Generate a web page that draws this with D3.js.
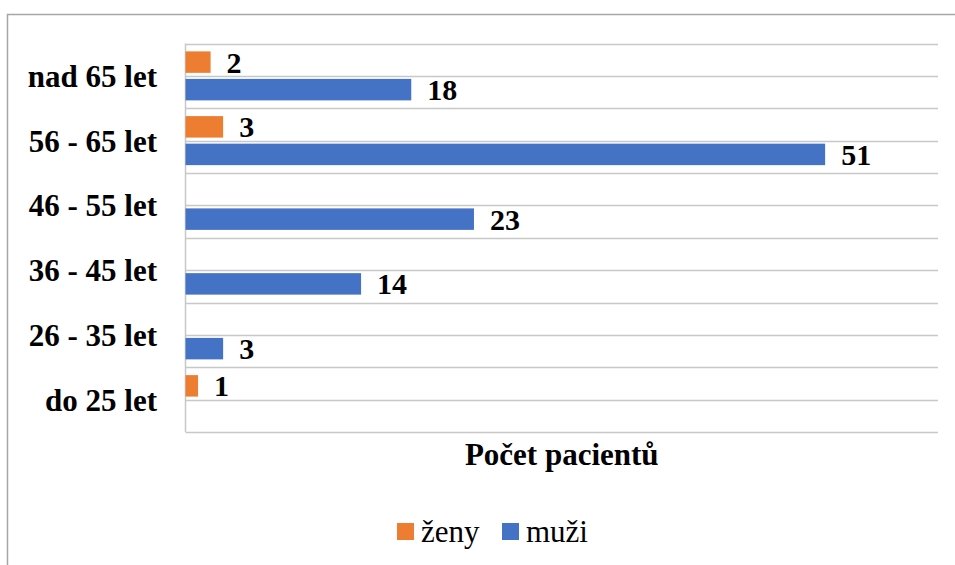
<!DOCTYPE html>
<html>
<head>
<meta charset="utf-8">
<script src="https://cdn.jsdelivr.net/npm/d3@7"></script>
<style>
  body { margin: 0; background: #fff; }
  text { font-family: "Liberation Serif", "Times New Roman", serif; fill: #000; }
</style>
</head>
<body>
<svg class="chart"></svg>
<script>
// age groups, bottom to top as in the original
var categories = ["do 25 let", "26 - 35 let", "36 - 45 let", "46 - 55 let", "56 - 65 let", "nad 65 let"];
var series = ["ženy", "muži"];
var zeny = [1, null, null, null, 3, 2];
var muzi = [null, 3, 14, 23, 51, 18];
var colors = ["#ED7D31", "#4472C4"];
var axisTitle = "Počet pacientů";

var width = 955, height = 565;
// plot area edges (note: "top" is a reserved window prop, so use plot*)
var plotLeft = 185.5, plotRight = 938, plotTop = 43.5, plotBottom = 432;

var chart = d3.select(".chart").attr("width", width).attr("height", height);

// outer chart border (only left and top edges are inside the picture)
chart.append("rect")
    .attr("x", 7.5).attr("y", 14.5)
    .attr("width", 1000).attr("height", 600)
    .attr("fill", "none").attr("stroke", "#a6a6a6").attr("stroke-width", 1.5);

var x = d3.scaleLinear().domain([0, 60]).range([plotLeft, plotRight]);
var y = d3.scaleBand().domain(categories.slice().reverse()).range([plotTop, plotBottom]);
var yInner = d3.scaleBand().domain(series).range([0, y.bandwidth()])
    .paddingInner(0.22).paddingOuter(0.286);

// horizontal gridlines at every half category
var grid = [];
categories.forEach(function(c) { grid.push(y(c)); grid.push(y(c) + y.bandwidth() / 2); });
grid.push(plotBottom);
chart.append("g").selectAll("line")
    .data(grid)
  .enter().append("line")
    .attr("x1", plotLeft).attr("x2", plotRight)
    .attr("y1", function(d) { return Math.round(d) + 0.5; })
    .attr("y2", function(d) { return Math.round(d) + 0.5; })
    .attr("stroke", "#c8c8c8").attr("stroke-width", 1.5);

// vertical axis line
chart.append("line")
    .attr("x1", plotLeft).attr("x2", plotLeft).attr("y1", plotTop).attr("y2", plotBottom)
    .attr("stroke", "#c8c8c8").attr("stroke-width", 1.5);

var rows = [];
categories.forEach(function(c, i) {
  rows.push({ cat: c, s: 0, v: zeny[i] });
  rows.push({ cat: c, s: 1, v: muzi[i] });
});
rows = rows.filter(function(d) { return d.v != null; });

var bar = chart.selectAll("g.bar")
    .data(rows)
  .enter().append("g")
    .attr("class", "bar")
    .attr("transform", function(d) { return "translate(0," + (y(d.cat) + yInner(series[d.s])) + ")"; });

bar.append("rect")
    .attr("x", x(0))
    .attr("width", function(d) { return x(d.v) - x(0); })
    .attr("height", yInner.bandwidth())
    .attr("fill", function(d) { return colors[d.s]; });

bar.append("text")
    .attr("x", function(d) { return x(d.v) + 16; })
    .attr("y", yInner.bandwidth() / 2 + 10.5)
    .attr("font-size", "30px").attr("font-weight", "bold")
    .text(function(d) { return d.v; });

// category labels
chart.append("g").selectAll("text")
    .data(categories)
  .enter().append("text")
    .attr("x", 157)
    .attr("y", function(d) { return y(d) + y.bandwidth() / 2 + 11; })
    .attr("text-anchor", "end")
    .attr("font-size", "31px").attr("font-weight", "bold")
    .text(function(d) { return d; });

chart.append("text")
    .attr("x", (plotLeft + plotRight) / 2).attr("y", 465)
    .attr("text-anchor", "middle")
    .attr("font-size", "31px").attr("font-weight", "bold")
    .text(axisTitle);

// legend
var legendX = [397, 502];
var legend = chart.selectAll("g.legend")
    .data(series)
  .enter().append("g")
    .attr("class", "legend")
    .attr("transform", function(d, i) { return "translate(" + legendX[i] + ",523)"; });
legend.append("rect")
    .attr("width", 17).attr("height", 17)
    .attr("fill", function(d, i) { return colors[i]; });
legend.append("text")
    .attr("x", 24).attr("y", 18.5)
    .attr("font-size", "31px")
    .text(function(d) { return d; });
</script>
</body>
</html>
